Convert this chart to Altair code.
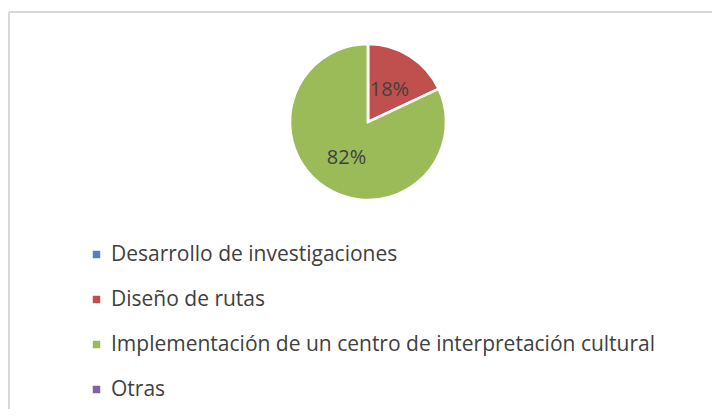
import altair as alt
import pandas as pd

categories = [
    "Desarrollo de investigaciones",
    "Diseño de rutas",
    "Implementación de un centro de interpretación cultural",
    "Otras",
]
values = [0, 18, 82, 0]
colors = ["#4F81BD", "#C0504D", "#9BBB59", "#8064A2"]

df = pd.DataFrame({"categoria": categories, "valor": values, "orden": list(range(len(categories)))})

FONT = "Open Sans"
W, H = 703, 397
CX, CY = 359, 110

base = alt.Chart(df).encode(
    theta=alt.Theta("valor:Q", stack=True),
    order=alt.Order("orden:Q"),
)

pie = base.mark_arc(outerRadius=78, stroke="white", strokeWidth=2.5).encode(
    x=alt.value(CX),
    y=alt.value(CY),
    color=alt.Color(
        "categoria:N",
        sort=categories,
        scale=alt.Scale(domain=categories, range=colors),
        legend=alt.Legend(
            title=None,
            orient="none",
            legendX=77,
            legendY=232,
            direction="vertical",
            symbolType="square",
            symbolSize=56,
            symbolStrokeWidth=0,
            labelFont=FONT,
            labelFontSize=21,
            labelColor="#404040",
            labelOffset=4,
            rowPadding=23,
            padding=0,
            labelLimit=1000,
        ),
    ),
)

labels = (
    base.transform_joinaggregate(total="sum(valor)")
    .transform_calculate(pct="format(datum.valor / datum.total, '.0%')")
    .transform_filter("datum.valor > 0")
    .mark_text(radius=40, font=FONT, fontSize=20, color="#404040", dy=2)
    .encode(x=alt.value(CX), y=alt.value(CY), text="pct:N")
)

border_top = alt.Chart(df).mark_rule(color="#d9d9d9", strokeWidth=2).encode(
    x=alt.value(0), x2=alt.value(W), y=alt.value(0)
)
border_left = alt.Chart(df).mark_rule(color="#d9d9d9", strokeWidth=2).encode(
    x=alt.value(0), y=alt.value(0), y2=alt.value(H)
)

chart = (
    alt.layer(border_top, border_left, pie, labels)
    .properties(
        width=W,
        height=H,
        autosize="none",
        padding={"left": 1, "top": 4, "right": 0, "bottom": 0},
        background="white",
    )
    .configure_view(stroke=None)
)

chart.save("out.html", embed_options={"renderer": "svg", "actions": False})
